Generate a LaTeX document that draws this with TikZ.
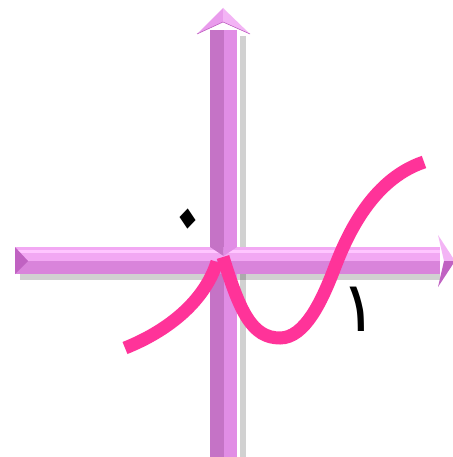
\documentclass[tikz,border=0pt]{standalone}
\usepackage{fontspec}
\newfontfamily\arabicfont[Script=Arabic]{DejaVu Sans}
\TeXXeTstate=1
\definecolor{curvepink}{HTML}{FF3399}
\definecolor{vdark}{HTML}{C573C6}
\definecolor{vlight}{HTML}{E18DE5}
\definecolor{hlight}{HTML}{F2A8F3}
\definecolor{hhigh}{HTML}{FFC6FF}
\definecolor{hdark}{HTML}{D984DB}
\definecolor{bevel}{HTML}{C062C2}
\definecolor{headl}{HTML}{E99BEC}
\definecolor{headr}{HTML}{F3B4F5}
\tikzset{
  curve/.style={draw=curvepink, line width=13pt, line cap=butt},
  shadowfill/.style={fill=black, opacity=0.18},
  lab/.style={font=\arabicfont, inner sep=0pt}
}
\begin{document}
\begin{tikzpicture}[x=1pt,y=-1pt]
\useasboundingbox (0,0) rectangle (452,457);
\fill[white] (0,0) rectangle (452,457);
% shadows
\fill[shadowfill] (240,36) rectangle (246,457);
\fill[shadowfill] (20,274) rectangle (440,280);
% vertical arrow shaft
\fill[vdark] (210,30) rectangle (223.5,457);
\fill[vlight] (223.5,30) rectangle (237,457);
% vertical arrow head
\fill[headl] (223,8) -- (197,34) -- (223,22) -- cycle;
\fill[headr] (223,8) -- (250,34) -- (223,22) -- cycle;
\draw[bevel, line width=0.6pt] (197,34) -- (223,22) -- (250,34);
% horizontal arrow shaft
\fill[hlight] (15,247) rectangle (440,260.5);
\fill[hhigh] (15,249.5) rectangle (440,253);
\fill[hdark] (15,260.5) rectangle (440,274);
\fill[bevel] (15,247) -- (28,261) -- (15,274) -- cycle;
% crossing bevel
\fill[vdark] (210,247) -- (223.5,256) -- (223.5,247) -- cycle;
\fill[vlight] (237,247) -- (223.5,256) -- (223.5,247) -- cycle;
% horizontal arrow head
\fill[headr] (438,235) -- (455,261) -- (444,261) -- cycle;
\fill[bevel] (438,287) -- (455,261) -- (444,261) -- cycle;
% curve
\draw[curve] (125,348) .. controls (170,330) and (205,300) .. (217,262);
\draw[curve] (223,257) .. controls (240,312) and (252,338) .. (280,338)
  .. controls (305,338) and (322,300) .. (333,272)
  .. controls (345,240) and (370,180) .. (424,162);
% labels
\node[lab, font=\arabicfont\fontsize{100}{110}\selectfont, yscale=1.25, rotate=40] (zero) at (195,230) {\beginR ٠\endR};
\node[lab, font=\arabicfont\fontsize{70}{80}\selectfont] (one) at (359,309) {\beginR ١\endR};
\end{tikzpicture}
\end{document}
